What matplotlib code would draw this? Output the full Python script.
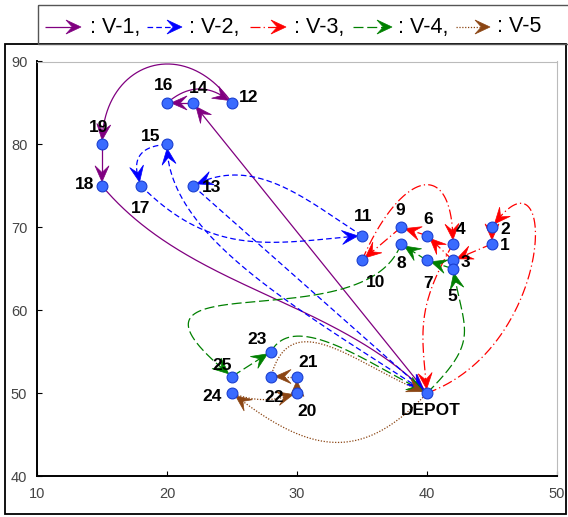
import numpy as np
import matplotlib
matplotlib.use('Agg')
import matplotlib.pyplot as plt
from matplotlib.patches import Polygon, Rectangle

plt.rcParams['font.family'] = ['Liberation Sans', 'DejaVu Sans']

# ---- data: customer nodes (index 0 = depot) ----
node_names = ['DEPOT'] + [str(i) for i in range(1, 26)]
node_x = [40, 45, 45, 42, 42, 42, 40, 40, 38, 38, 35, 35, 25, 22, 22, 20, 20, 18, 15, 15, 30, 30, 28, 28, 25, 25]
node_y = [50, 68, 70, 66, 68, 65, 69, 66, 68, 70, 66, 69, 85, 75, 85, 80, 85, 75, 75, 80, 50, 52, 52, 55, 50, 52]

# ---- data: vehicle routes ----
route_names = ['V-1', 'V-2', 'V-3', 'V-4', 'V-5']
route_v1 = [0, 14, 16, 12, 19, 18, 0]
route_v2 = [0, 15, 17, 11, 13, 0]
route_v3 = [0, 2, 1, 3, 6, 9, 10, 4, 0]
route_v4 = [0, 5, 7, 8, 25, 23, 0]
route_v5 = [0, 24, 20, 21, 22, 0]
routes = [route_v1, route_v2, route_v3, route_v4, route_v5]

legend_labels = [': V-1,', ': V-2,', ': V-3,', ': V-4,', ': V-5']

# ---- styles ----
route_colors = ['#800080', '#0000ff', '#ff0000', '#008000', '#8b4513']
route_ls = ['-', (0, (4.5, 2.5)), (0, (8, 2.5, 1, 2.5)), (0, (8, 3)), (0, (1, 1.3))]

# label offsets in pixels (right, down)
label_off = {
    'DEPOT': (4, 17), '1': (13, 2), '2': (13, 2), '3': (12, 2.5), '4': (8, -14),
    '5': (-1, 28), '6': (1, -16), '7': (1, 23), '8': (0, 20), '9': (-1, -17),
    '10': (14, 22.5), '11': (1, -19.5), '12': (17, -5.5), '13': (19, 1.5),
    '14': (5.5, -14.5), '15': (-16, -7.5), '16': (-3, -17), '17': (0, 23),
    '18': (-17, -1.5), '19': (-3.5, -16.5), '20': (10, 18.5), '21': (11, -14),
    '22': (3, 20.5), '23': (-14, -12), '24': (-20, 3.5), '25': (-9.5, -11),
}

# edge shapes: ('rad', r) = simple arc, ('ang', out_deg, in_deg, k_out, k_in) = cubic
edge_shape = {
    (16, 12): ('rad', -0.43),
    (12, 19): ('ang', 125, -90, 0.62, 0.6),
    (18, 0): ('ang', -50, -45, 0.35, 0.35),
    (0, 15): ('ang', 147, 90, 0.45, 0.25),
    (15, 17): ('rad', 0.7),
    (17, 11): ('ang', -45, 5, 0.45, 0.4),
    (11, 13): ('ang', 148, 208, 0.35, 0.4),
    (0, 2): ('ang', 20, -125, 0.78, 0.65),
    (10, 4): ('ang', 67, -90, 1.0, 1.0),
    (4, 0): ('ang', -120, -85, 0.5, 0.4),
    (0, 5): ('ang', 45, 100, 0.6, 0.5),
    (8, 25): ('ang', -110, -39, 0.5, 0.9),
    (23, 0): ('ang', 61, -27, 0.3, 0.4),
    (0, 24): ('ang', -133, 142, 0.5, 0.5),
    (24, 20): ('rad', 0.2),
    (22, 0): ('ang', 75, -20, 0.5, 0.45),
}

W, H = 568, 517
fig = plt.figure(figsize=(W / 100, H / 100), dpi=100)
ax = fig.add_axes([37 / W, (H - 476) / H, 520 / W, 414.5 / H])
ax.set_xlim(10, 50)
ax.set_ylim(40, 90)
ax.set_xticks([10, 20, 30, 40, 50])
ax.set_yticks([40, 50, 60, 70, 80, 90])
ax.tick_params(direction='in', length=3.4, width=0.8, labelsize=10.5, labelcolor='#444444')
ax.tick_params(axis='x', pad=8)
ax.tick_params(axis='y', pad=7)
for s in ['left', 'bottom']:
    ax.spines[s].set_linewidth(1.4)
for s in ['top', 'right']:
    ax.spines[s].set_color('#bbbbbb')
    ax.spines[s].set_linewidth(0.8)

# overlay in pixel coordinates for frame and legend
ov = fig.add_axes([0, 0, 1, 1], zorder=-1)
ov.set_xlim(0, W)
ov.set_ylim(H, 0)
ov.axis('off')


def last_index(mask):
    idx = np.where(mask)[0]
    return idx[-1] if len(idx) else 0


def draw_edge(target, p0, p3, shape, color, ls, lw=0.9, head=(16, 14), gap=4.0):
    p0 = np.asarray(p0, float)
    p3 = np.asarray(p3, float)
    d = p3 - p0
    L = np.hypot(*d)
    if shape[0] == 'rad':
        c = (p0 + p3) / 2 + shape[1] * np.array([d[1], -d[0]])
        p1 = p0 + 2 / 3 * (c - p0)
        p2 = p3 + 2 / 3 * (c - p3)
    else:
        _, a0, a1, k0, k1 = shape
        u0 = np.array([np.cos(np.radians(a0)), np.sin(np.radians(a0))])
        u1 = np.array([np.cos(np.radians(a1)), np.sin(np.radians(a1))])
        p1 = p0 + k0 * L * u0
        p2 = p3 - k1 * L * u1
    t = np.linspace(0, 1, 400)[:, None]
    pts = (1 - t) ** 3 * p0 + 3 * (1 - t) ** 2 * t * p1 + 3 * (1 - t) * t ** 2 * p2 + t ** 3 * p3
    dist = np.hypot(*(pts - p3).T)
    hl, hw = head
    i_tip = last_index(dist >= gap)
    i_back = last_index(dist >= gap + hl)
    i_line = last_index(dist >= gap + 0.5 * hl)
    tip = pts[i_tip]
    u = tip - pts[i_back]
    if np.hypot(*u) == 0:
        u = d
    u = u / np.hypot(*u)
    n = np.array([-u[1], u[0]])
    verts = np.array([tip, tip - hl * u + hw / 2 * n, tip - 0.58 * hl * u, tip - hl * u - hw / 2 * n])
    inv = target.transData.inverted()
    line = inv.transform(pts[:i_line + 1])
    target.plot(line[:, 0], line[:, 1], color=color, ls=ls, lw=lw, zorder=2,
                clip_on=False, solid_capstyle='butt')
    target.add_patch(Polygon(inv.transform(verts), closed=True, fc=color, ec=color,
                             lw=0.5, zorder=3, clip_on=False))


# routes
disp = ax.transData.transform(np.column_stack([node_x, node_y]))
for r, route in enumerate(routes):
    for a, b in zip(route[:-1], route[1:]):
        shape = edge_shape.get((a, b), ('rad', 0.0))
        draw_edge(ax, disp[a], disp[b], shape, route_colors[r], route_ls[r])

# nodes and labels
ax.plot(node_x, node_y, 'o', ms=7.8, mfc='#3a6bff', mec='#1a3fd0', mew=0.8, zorder=5, clip_on=False)
for name, x, y in zip(node_names, node_x, node_y):
    dx, dy = label_off[name]
    ax.annotate(name, (x, y), xytext=(dx, -dy), textcoords='offset pixels',
                ha='center', va='center', fontsize=12.5, fontweight='bold', color='black', zorder=6)

# outer frame and legend box
ov.add_patch(Rectangle((5, 44), 561, 470, fill=False, ec='black', lw=1.3))
ov.add_patch(Rectangle((38, 5), 545, 39, fill=False, ec='#555555', lw=1.0))

leg_x0 = [45, 147, 250, 353, 456]
leg_x1 = [81, 182, 286, 392, 490]
leg_tx = [90, 189, 294, 398, 497]
for i in range(len(route_names)):
    q0 = ov.transData.transform((leg_x0[i], 27))
    q1 = ov.transData.transform((leg_x1[i], 27))
    draw_edge(ov, q0, q1, ('rad', 0.0), route_colors[i], route_ls[i], head=(15, 14), gap=0.0)
    ov.text(leg_tx[i], 27, legend_labels[i], ha='left', va='center', fontsize=15.5, color='black')

fig.savefig('out.png', dpi=100)
